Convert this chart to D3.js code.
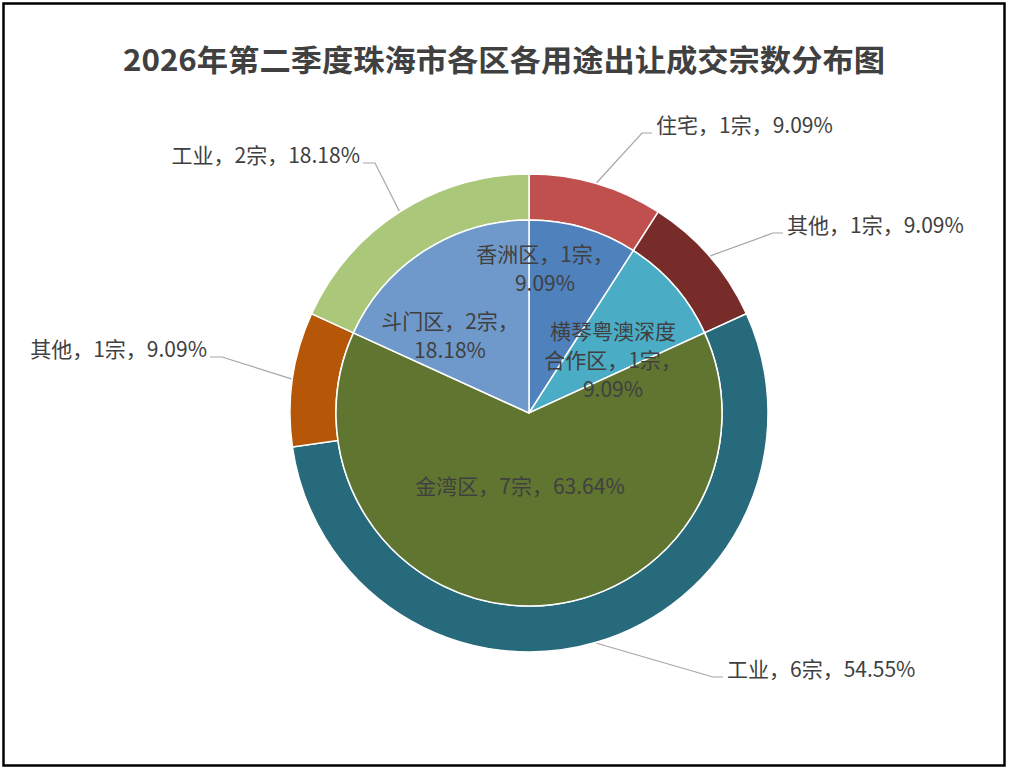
<!DOCTYPE html>
<html>
<head>
<meta charset="utf-8">
<script src="https://cdn.jsdelivr.net/npm/d3@7"></script>
<style>
  body { margin: 0; background: #fff; }
  text { font-family: "Noto Sans CJK SC", "Noto Sans", sans-serif; }
</style>
</head>
<body>
<svg id="chart" width="1009" height="772"></svg>
<script>
var titleText = "2026年第二季度珠海市各区各用途出让成交宗数分布图";

// inner ring: districts
var districtNames = ["香洲区", "横琴粤澳深度合作区", "金湾区", "斗门区"];
var districtCounts = [1, 1, 7, 2];
var districtColors = ["#4f81bd", "#4bacc6", "#5f7530", "#7099cb"];

// outer ring: land use per district
var useNames = ["住宅", "其他", "工业", "其他", "工业"];
var useCounts = [1, 1, 6, 1, 2];
var useColors = ["#c0504d", "#772c2a", "#276a7c", "#b65708", "#abc77a"];

// label layout (relative to pie centre)
var innerLabelPos = [[16, -144], [84, -52], [-9, 74], [-79, -77]];
var innerWrap = [148, 142, 280, 148];
var outerElbow = [[113, -280], [244, -180], [184, 264], [-307, -56], [-154, -250]];

var svg = d3.select("#chart");
var W = 1009, H = 772;
var cx = 529, cy = 413;
var rInner = 193, rOuter = 239;
var fs = 21;
var total = d3.sum(districtCounts);

svg.append("rect").attr("x", 0).attr("y", 0).attr("width", W).attr("height", H).attr("fill", "#fff");
svg.append("rect")
    .attr("x", 3.5).attr("y", 3.5).attr("width", 1001).attr("height", 762)
    .attr("fill", "none").attr("stroke", "#000").attr("stroke-width", 2.5);

// title
svg.append("text")
    .attr("x", 504).attr("y", 71)
    .attr("text-anchor", "middle")
    .attr("font-size", 30).attr("font-weight", "bold")
    .attr("fill", "#404040")
    .attr("textLength", 762).attr("lengthAdjust", "spacingAndGlyphs")
    .text(titleText);

function pct(v) { return (v / total * 100).toFixed(2) + "%"; }

var pie = d3.pie().sort(null).value(function (d) { return d.value; });

var innerData = pie(districtNames.map(function (n, i) { return { name: n, value: districtCounts[i], color: districtColors[i] }; }));
var outerData = pie(useNames.map(function (n, i) { return { name: n, value: useCounts[i], color: useColors[i] }; }));

var g = svg.append("g").attr("transform", "translate(" + cx + "," + cy + ")");

var arcInner = d3.arc().innerRadius(0).outerRadius(rInner);
var arcOuter = d3.arc().innerRadius(rInner).outerRadius(rOuter);

g.selectAll("path.outer")
    .data(outerData)
    .enter()
    .append("path")
    .attr("class", "outer")
    .attr("d", arcOuter)
    .attr("fill", function (d) { return d.data.color; })
    .attr("stroke", "#fff").attr("stroke-width", 1.5);

g.selectAll("path.inner")
    .data(innerData)
    .enter()
    .append("path")
    .attr("class", "inner")
    .attr("d", arcInner)
    .attr("fill", function (d) { return d.data.color; })
    .attr("stroke", "#fff").attr("stroke-width", 1.5);

// split label into tokens: CJK chars one by one, ascii runs kept together
function tokens(s) {
    return s.match(/[\x00-\x7f]+|[^\x00-\x7f]/g);
}

// inner labels, wrapped to width
innerData.forEach(function (d, i) {
    var label = d.data.name + "，" + d.data.value + "宗，" + pct(d.data.value);
    var t = g.append("text")
        .attr("font-size", fs).attr("fill", "#404040")
        .attr("text-anchor", "middle");
    var probe = t.append("tspan");
    var lines = [], cur = "";
    tokens(label).forEach(function (tk) {
        probe.text(cur + tk);
        if (cur && probe.node().getComputedTextLength() > innerWrap[i]) {
            lines.push(cur);
            cur = tk;
        } else {
            cur += tk;
        }
    });
    lines.push(cur);
    probe.remove();
    var lh = 29;
    var x = innerLabelPos[i][0], y0 = innerLabelPos[i][1] - (lines.length - 1) * lh / 2;
    lines.forEach(function (ln, k) {
        t.append("tspan")
            .attr("x", x).attr("y", y0 + k * lh)
            .attr("dy", "0.35em")
            .text(ln);
    });
});

// outer labels with leader lines
outerData.forEach(function (d, i) {
    var mid = (d.startAngle + d.endAngle) / 2;
    var sx = Math.sin(mid) * (rOuter + 1), sy = -Math.cos(mid) * (rOuter + 1);
    var ex = outerElbow[i][0], ey = outerElbow[i][1];
    var right = ex > 0;
    var hx = ex + (right ? 10 : -12);
    g.append("polyline")
        .attr("points", [[sx, sy], [ex, ey], [hx, ey]].map(function (p) { return p.join(","); }).join(" "))
        .attr("fill", "none").attr("stroke", "#a6a6a6").attr("stroke-width", 1.2);
    g.append("text")
        .attr("x", hx + (right ? 4 : -3))
        .attr("y", ey - 7)
        .attr("dy", "0.35em")
        .attr("text-anchor", right ? "start" : "end")
        .attr("font-size", fs).attr("fill", "#404040")
        .text(d.data.name + "，" + d.data.value + "宗，" + pct(d.data.value));
});
</script>
</body>
</html>
